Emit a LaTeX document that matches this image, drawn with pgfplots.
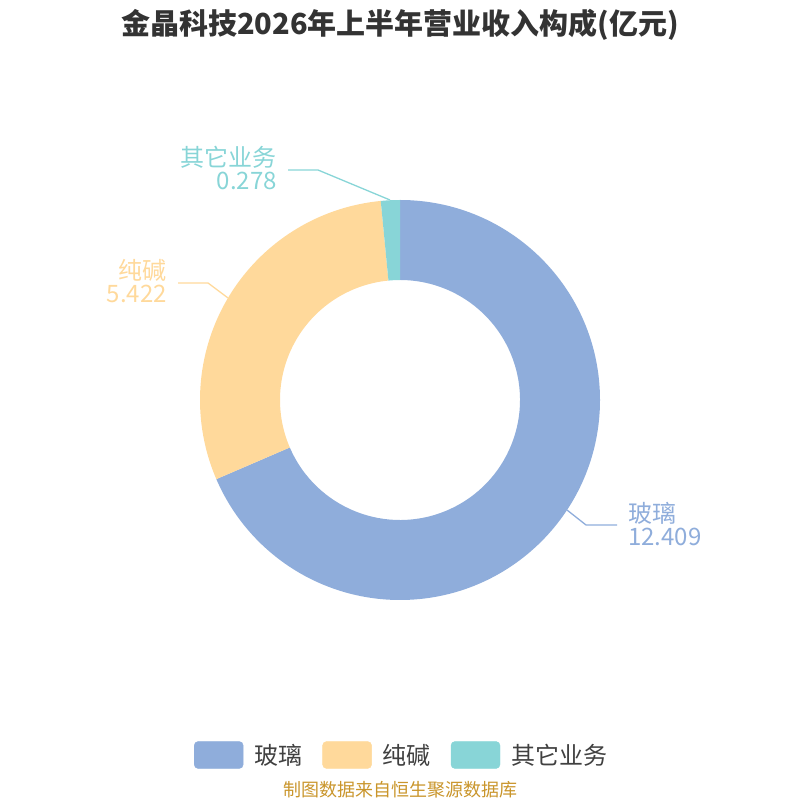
\documentclass[border=0pt]{standalone}
\usepackage{pgfplots}
\pgfplotsset{compat=1.18}
\usepackage{pgfplotstable}
\usepackage{fontspec}
\setmainfont{Noto Sans CJK SC}
\definecolor{cGlass}{HTML}{8FADDB}
\definecolor{cSoda}{HTML}{FFD99B}
\definecolor{cOther}{HTML}{88D5D7}
\definecolor{cTitle}{HTML}{333333}
\definecolor{cLeg}{HTML}{404040}
\definecolor{cFoot}{HTML}{C9952B}
\newcommand{\titlefont}{\fontsize{29}{34}\selectfont\bfseries}
\newcommand{\lblfont}{\fontsize{24}{23}\selectfont}
\newcommand{\legfont}{\fontsize{24}{27}\selectfont}
\newcommand{\footfont}{\fontsize{18}{21}\selectfont}
\pgfplotstableread{
name value
glass 12.409
soda 5.422
other 0.278
}\datatable
\pgfplotstablegetelem{0}{value}\of\datatable\let\va\pgfplotsretval%
\pgfplotstablegetelem{1}{value}\of\datatable\let\vb\pgfplotsretval%
\pgfplotstablegetelem{2}{value}\of\datatable\let\vc\pgfplotsretval%
\pgfmathsetmacro{\T}{\va+\vb+\vc}%
\pgfmathsetmacro{\aA}{90}%
\pgfmathsetmacro{\aB}{90-360*\va/\T}%
\pgfmathsetmacro{\aC}{\aB-360*\vb/\T}%
\pgfmathsetmacro{\aD}{\aC-360*\vc/\T}%
\newcommand{\sector}[3]{\fill[#1] (axis cs:0,0) ++(#2:200pt) arc[start angle=#2, end angle=#3, radius=200pt] -- ++({#3+180}:80pt) arc[start angle=#3, end angle=#2, radius=120pt] -- cycle;}
\begin{document}%
\begin{tikzpicture}
\begin{axis}[
  x=1pt, y=1pt, xmin=-400, xmax=400, ymin=-400, ymax=400,
  scale only axis, hide axis, clip=false,
  legend columns=3,
  legend image code/.code={\fill[#1, rounded corners=4pt] (0pt,-13.5pt) rectangle (49pt,13.5pt);},
  legend style={at={(axis cs:-206,-355)}, anchor=west, draw=none, fill=none,
    inner sep=0pt, outer sep=0pt,
    nodes={inner sep=0pt, outer sep=0pt, text=cLeg, font=\legfont},
    /tikz/every odd column/.append style={column sep=11pt},
    /tikz/every even column/.append style={column sep=20pt}},
]
\coordinate (bbsw) at (axis cs:-400,-400);
\coordinate (bbne) at (axis cs:400,400);
\sector{cGlass}{\aA}{\aB}
\sector{cSoda}{\aB}{\aC}
\sector{cOther}{\aC}{\aD}
\addplot[cOther, line width=1.3pt, mark=none, forget plot] coordinates {(-10,200) (-82,230) (-112,230)};
\addplot[cSoda, line width=1.3pt, mark=none, forget plot] coordinates {(-172,102) (-192,117) (-222,117)};
\addplot[cGlass, line width=1.3pt, mark=none, forget plot] coordinates {(167,-110) (186,-125) (217,-125)};
\addlegendimage{cGlass}\addlegendentry{玻璃}
\addlegendimage{cSoda}\addlegendentry{纯碱}
\addlegendimage{cOther}\addlegendentry{其它业务}
\node[anchor=east, align=right, inner sep=0pt, text=cOther, font=\lblfont] at (axis cs:-123,231.5) {其它业务\\0.278};
\node[anchor=east, align=right, inner sep=0pt, text=cSoda, font=\lblfont] at (axis cs:-233,118.5) {纯碱\\5.422};
\node[anchor=west, align=left, inner sep=0pt, text=cGlass, font=\lblfont] at (axis cs:228,-124) {玻璃\\12.409};
\node[inner sep=0pt, text=cTitle, font=\titlefont] at (axis cs:0,375) {金晶科技2026年上半年营业收入构成(亿元)};
\node[inner sep=0pt, text=cFoot, font=\footfont] at (axis cs:0,-390) {制图数据来自恒生聚源数据库};
\end{axis}
\pgfresetboundingbox
\path[use as bounding box] (bbsw) rectangle (bbne);
\end{tikzpicture}%
\end{document}
